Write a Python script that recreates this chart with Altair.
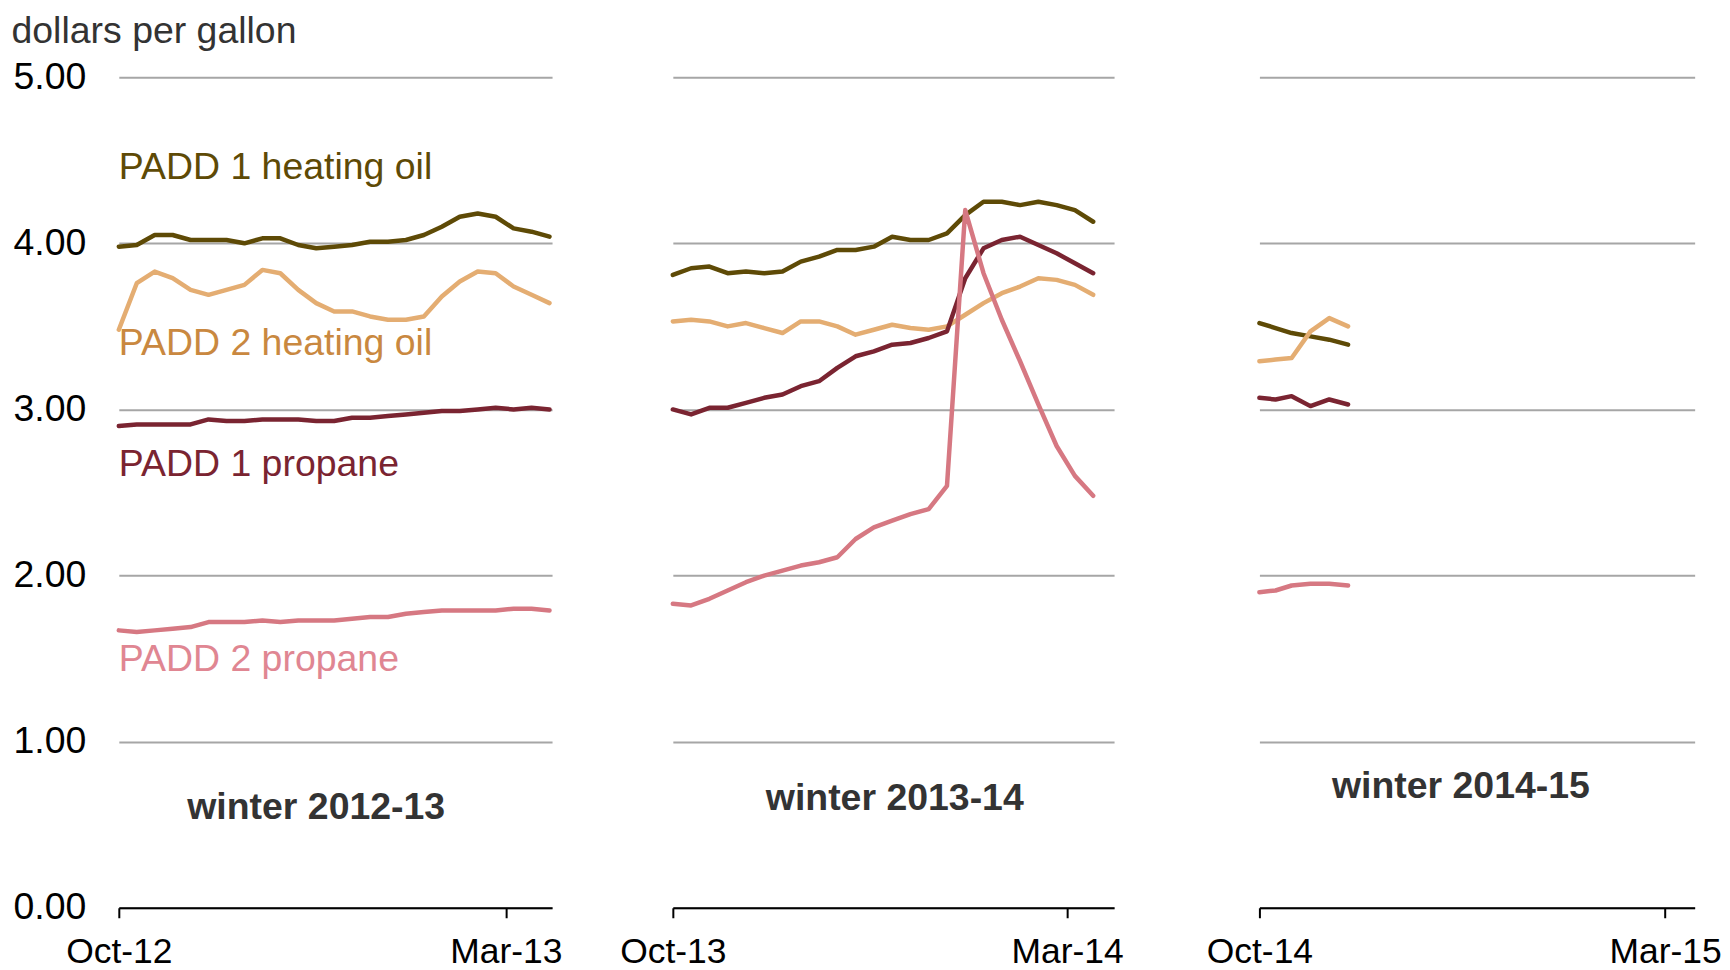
import altair as alt
import pandas as pd

# ---------------- data ----------------
series_names = ["PADD 1 heating oil", "PADD 2 heating oil", "PADD 1 propane", "PADD 2 propane"]
line_colors = ["#5E4A06", "#E4AD72", "#7A2431", "#D67882"]
label_colors = ["#5E4A06", "#C98840", "#7A2431", "#E08692"]
label_values = [4.385, 3.33, 2.597, 1.425]

winters = ["winter 2012-13", "winter 2013-14", "winter 2014-15"]

w1_dates = [d.strftime("%Y-%m-%d") for d in pd.date_range("2012-10-01", periods=25, freq="7D")]
w1_heat1 = [3.98, 3.99, 4.05, 4.05, 4.02, 4.02, 4.02, 4.00, 4.03, 4.03, 3.99, 3.97, 3.98,
            3.99, 4.01, 4.01, 4.02, 4.05, 4.10, 4.16, 4.18, 4.16, 4.09, 4.07, 4.04]
w1_heat2 = [3.48, 3.76, 3.83, 3.79, 3.72, 3.69, 3.72, 3.75, 3.84, 3.82, 3.72, 3.64, 3.59,
            3.59, 3.56, 3.54, 3.54, 3.56, 3.68, 3.77, 3.83, 3.82, 3.74, 3.69, 3.64]
w1_prop1 = [2.90, 2.91, 2.91, 2.91, 2.91, 2.94, 2.93, 2.93, 2.94, 2.94, 2.94, 2.93, 2.93,
            2.95, 2.95, 2.96, 2.97, 2.98, 2.99, 2.99, 3.00, 3.01, 3.00, 3.01, 3.00]
w1_prop2 = [1.67, 1.66, 1.67, 1.68, 1.69, 1.72, 1.72, 1.72, 1.73, 1.72, 1.73, 1.73, 1.73,
            1.74, 1.75, 1.75, 1.77, 1.78, 1.79, 1.79, 1.79, 1.79, 1.80, 1.80, 1.79]

w2_dates = [d.strftime("%Y-%m-%d") for d in pd.date_range("2013-10-01", periods=24, freq="7D")]
w2_heat1 = [3.81, 3.85, 3.86, 3.82, 3.83, 3.82, 3.83, 3.89, 3.92, 3.96, 3.96, 3.98,
            4.04, 4.02, 4.02, 4.06, 4.17, 4.25, 4.25, 4.23, 4.25, 4.23, 4.20, 4.13]
w2_heat2 = [3.53, 3.54, 3.53, 3.50, 3.52, 3.49, 3.46, 3.53, 3.53, 3.50, 3.45, 3.48,
            3.51, 3.49, 3.48, 3.50, 3.57, 3.64, 3.70, 3.74, 3.79, 3.78, 3.75, 3.69]
w2_prop1 = [3.00, 2.97, 3.01, 3.01, 3.04, 3.07, 3.09, 3.14, 3.17, 3.25, 3.32, 3.35,
            3.39, 3.40, 3.43, 3.47, 3.79, 3.97, 4.02, 4.04, 3.99, 3.94, 3.88, 3.82]
w2_prop2 = [1.83, 1.82, 1.86, 1.91, 1.96, 2.00, 2.03, 2.06, 2.08, 2.11, 2.22, 2.29,
            2.33, 2.37, 2.40, 2.54, 4.20, 3.82, 3.54, 3.29, 3.03, 2.78, 2.60, 2.48]

w3_dates = ["2014-10-01", "2014-10-07", "2014-10-13", "2014-10-20", "2014-10-27", "2014-11-03"]
w3_heat1 = [3.52, 3.49, 3.46, 3.44, 3.42, 3.39]
w3_heat2 = [3.29, 3.30, 3.31, 3.47, 3.55, 3.50]
w3_prop1 = [3.07, 3.06, 3.08, 3.02, 3.06, 3.03]
w3_prop2 = [1.90, 1.91, 1.94, 1.95, 1.95, 1.94]

# x-axis: domain ends and tick positions per winter
x_domains = [((2012, 10, 1), (2013, 3, 19)), ((2013, 10, 1), (2014, 3, 19)), ((2014, 10, 1), (2015, 3, 12))]
x_ticks = [((2012, 10, 1), (2013, 3, 1)), ((2013, 10, 1), (2014, 3, 1)), ((2014, 10, 1), (2015, 3, 1))]
winter_title_dates = ["2012-12-17", "2013-12-25", "2014-12-15"]
winter_title_values = [0.535, 0.589, 0.66]
y_ticks = [0, 1, 2, 3, 4, 5]

panel_widths = [434, 442, 436]
PANEL_H = 832
FONT = "Liberation Sans"
FS = 37.5      # labels, titles, y tick labels
FS_X = 35.5    # x tick labels

season_data = [
    (w1_dates, [w1_heat1, w1_heat2, w1_prop1, w1_prop2]),
    (w2_dates, [w2_heat1, w2_heat2, w2_prop1, w2_prop2]),
    (w3_dates, [w3_heat1, w3_heat2, w3_prop1, w3_prop2]),
]


def dt(t):
    return alt.DateTime(year=t[0], month=t[1], date=t[2], utc=True)


def make_panel(i):
    dates, series_vals = season_data[i]
    d0, d1 = x_domains[i]
    t0, t1 = x_ticks[i]
    x_enc = alt.X(
        "date:T",
        scale=alt.Scale(type="utc", domain=[dt(d0), dt(d1)], nice=False),
        axis=alt.Axis(
            values=[dt(t0), dt(t1)], format="%b-%y", grid=False,
            domain=True, domainColor="#000000", domainWidth=2,
            ticks=True, tickColor="#000000", tickWidth=2, tickSize=10,
            labelFontSize=FS_X, labelColor="#000000", labelPadding=17,
            labelFlush=False, labelOverlap=False, labelFont=FONT,
        ),
        title=None,
    )
    if i == 0:
        y_axis = alt.Axis(
            values=y_ticks, format=".2f", grid=True, gridColor="#A6A6A6", gridWidth=2,
            domain=False, ticks=False, tickSize=0,
            labelFontSize=FS, labelColor="#000000", labelPadding=33, labelFont=FONT,
            title="dollars per gallon", titleAngle=0, titleAlign="left",
            titleBaseline="alphabetic", titleX=-108, titleY=-34.5,
            titleFontSize=FS, titleFontWeight="normal", titleColor="#333333", titleFont=FONT,
        )
    else:
        y_axis = alt.Axis(
            values=y_ticks, grid=True, gridColor="#A6A6A6", gridWidth=2,
            domain=False, ticks=False, tickSize=0, labels=False, title=None,
        )
    y_enc = alt.Y("price:Q", scale=alt.Scale(domain=[0, 5], nice=False, zero=True),
                  axis=y_axis, title=None if i else "dollars per gallon")

    layers = []
    if i == 0:
        lab_df = pd.DataFrame({
            "date": [dates[0]] * len(series_names),
            "price": label_values,
            "label": series_names,
        })
        for name, col in zip(series_names, label_colors):
            layers.append(
                alt.Chart(lab_df).transform_filter(alt.datum.label == name)
                .mark_text(align="left", baseline="alphabetic", fontSize=FS, font=FONT, color=col)
                .encode(x=x_enc, y=y_enc, text="label:N")
            )
    for name, col, vals in zip(series_names, line_colors, series_vals):
        df = pd.DataFrame({"date": dates, "price": vals})
        layers.append(
            alt.Chart(df).mark_line(color=col, strokeWidth=4.5, strokeJoin="round", strokeCap="round")
            .encode(x=x_enc, y=y_enc)
        )
    t_df = pd.DataFrame({"date": [winter_title_dates[i]], "price": [winter_title_values[i]],
                         "label": [winters[i]]})
    layers.append(
        alt.Chart(t_df).mark_text(align="center", baseline="alphabetic", fontSize=FS,
                                  fontWeight="bold", font=FONT, color="#333333")
        .encode(x=x_enc, y=y_enc, text="label:N")
    )
    return alt.layer(*layers).properties(width=panel_widths[i], height=PANEL_H)


p1, p2, p3 = (make_panel(i) for i in range(3))
inner = alt.hconcat(p1, p2, spacing=121, bounds="flush")
chart = (
    alt.hconcat(inner, p3, spacing=81.6, bounds="full")
    .properties(padding={"left": 3, "top": 3.5, "right": 0, "bottom": 0})
    .configure(font=FONT, background="#ffffff")
    .configure_view(stroke=None)
)

chart.save("out.html", embed_options={"renderer": "svg", "actions": False})
